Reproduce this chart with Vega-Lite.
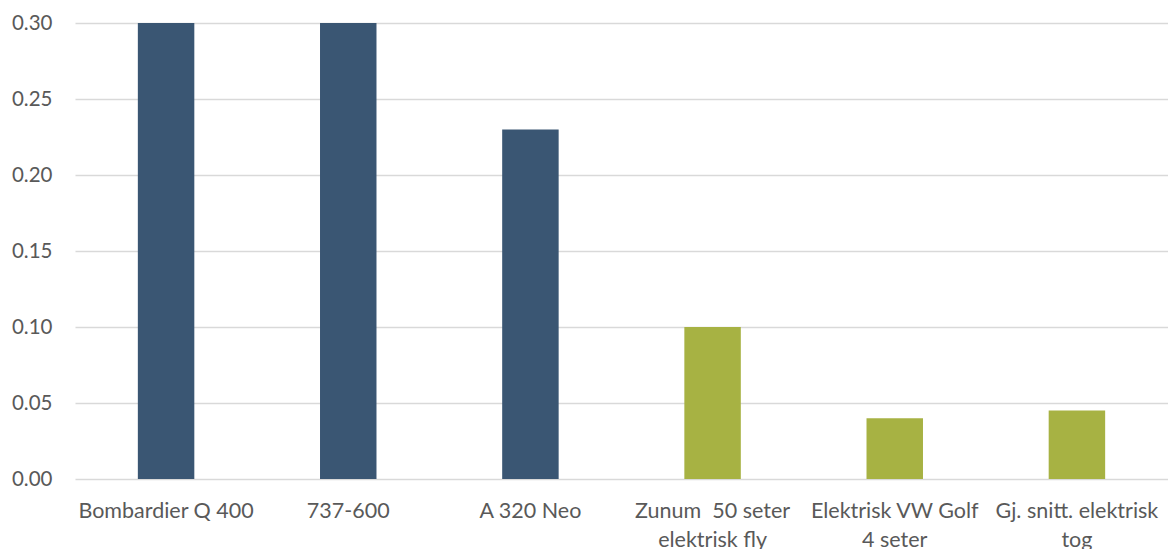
{
  "$schema": "https://vega.github.io/schema/vega-lite/v6.json",
  "autosize": "none",
  "width": 1093,
  "height": 456,
  "padding": {"left": 75, "top": 23, "right": 0, "bottom": 70},
  "background": "white",
  "data": {
    "values": [
      {"kjoretoy": "Bombardier Q 400", "verdi": 0.30, "type": "fly"},
      {"kjoretoy": "737-600", "verdi": 0.30, "type": "fly"},
      {"kjoretoy": "A 320 Neo", "verdi": 0.23, "type": "fly"},
      {"kjoretoy": "Zunum\u00a0\u00a050 seter|elektrisk fly", "verdi": 0.10, "type": "elektrisk"},
      {"kjoretoy": "Elektrisk VW Golf|4 seter", "verdi": 0.04, "type": "elektrisk"},
      {"kjoretoy": "Gj. snitt. elektrisk|tog", "verdi": 0.045, "type": "elektrisk"}
    ]
  },
  "mark": {"type": "bar", "clip": true},
  "encoding": {
    "x": {
      "field": "kjoretoy",
      "type": "nominal",
      "sort": null,
      "scale": {"paddingInner": 0.69, "paddingOuter": 0.345},
      "axis": {
        "title": null,
        "labelAngle": 0,
        "labelExpr": "split(datum.label, '|')",
        "labelFont": "Lato",
        "labelFontSize": 21.5,
        "labelColor": "#595959",
        "labelPadding": 21,
        "labelLineHeight": 29,
        "labelLimit": 0,
        "ticks": false,
        "domain": false
      }
    },
    "y": {
      "field": "verdi",
      "type": "quantitative",
      "scale": {"domain": [0, 0.3], "nice": false},
      "axis": {
        "title": null,
        "values": [0, 0.05, 0.1, 0.15, 0.2, 0.25, 0.3],
        "format": ".2f",
        "labelFont": "Lato",
        "labelFontSize": 20.5,
        "labelColor": "#595959",
        "labelPadding": 23,
        "ticks": false,
        "domain": false,
        "grid": true,
        "gridColor": "#d9d9d9",
        "gridWidth": 1.5
      }
    },
    "color": {
      "field": "type",
      "type": "nominal",
      "scale": {"domain": ["fly", "elektrisk"], "range": ["#3a5673", "#a7b243"]},
      "legend": null
    }
  },
  "config": {"view": {"stroke": null}}
}
